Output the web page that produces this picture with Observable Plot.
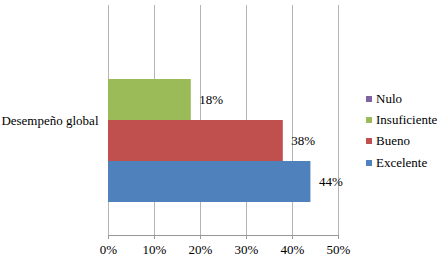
<!DOCTYPE html>
<html>
<head>
<meta charset="utf-8">
<script src="https://cdn.jsdelivr.net/npm/d3@7"></script>
<script src="https://cdn.jsdelivr.net/npm/@observablehq/plot@0.6"></script>
<style>
  body { margin: 0; background: #fff; }
  #wrap { position: relative; width: 447px; height: 263px; font-family: "Liberation Serif", "DejaVu Serif", serif; }
  #wrap svg, #wrap svg text { font-family: "Liberation Serif", "DejaVu Serif", serif !important; }
  #legend { position: absolute; left: 366px; top: 88px; font-size: 13px; color: #000; }
  #legend .row { height: 21.3px; display: flex; align-items: center; }
  #legend .sw { width: 6px; height: 6px; margin-right: 4px; }
</style>
</head>
<body>
<div id="wrap"></div>
<script>
const categories = ["Desempeño global"];
const series = ["Nulo", "Insuficiente", "Bueno", "Excelente"];
const values = [0, 0.18, 0.38, 0.44];
const colors = ["#8064A2", "#9BBB59", "#C0504D", "#4F81BD"];
const xTicks = [0, 0.1, 0.2, 0.3, 0.4, 0.5];

const data = series.map((s, i) => ({category: categories[0], series: s, value: values[i]}));
const fmt = d3.format(".0%");

const chart = Plot.plot({
  width: 447,
  height: 263,
  marginLeft: 108,
  marginRight: 109,
  marginTop: 5,
  marginBottom: 28,
  style: {fontFamily: "Liberation Serif, DejaVu Serif, serif", fontSize: "13px", background: "#fff", color: "#000"},
  x: {domain: [0, 0.5]},
  y: {domain: series, paddingInner: 0, paddingOuter: 0.788, axis: null},
  fy: {domain: categories, padding: 0},
  color: {domain: series, range: colors},
  marks: [
    Plot.ruleX(xTicks, {stroke: "#b4b4b4", strokeOpacity: 1}),
    Plot.barX(data, {fy: "category", y: "series", x: "value", fill: "series"}),
    Plot.text(data.filter(d => d.value > 0), {fy: "category", y: "series", x: "value", text: d => fmt(d.value), textAnchor: "start", dx: 8, fill: "#000"}),
    Plot.frame({anchor: "bottom", stroke: "#999"}),
    Plot.axisX({ticks: xTicks, tickFormat: fmt, tickSize: 4, tickPadding: 5, stroke: "#999", fill: "#000", label: null}),
    Plot.axisFy({anchor: "left", tickSize: 0, tickPadding: 10, label: null, fill: "#000"})
  ]
});
document.getElementById("wrap").appendChild(chart);

const legend = document.createElement("div");
legend.id = "legend";
series.forEach((s, i) => {
  const row = document.createElement("div");
  row.className = "row";
  const sw = document.createElement("span");
  sw.className = "sw";
  sw.style.background = colors[i];
  const t = document.createElement("span");
  t.textContent = s;
  row.appendChild(sw);
  row.appendChild(t);
  legend.appendChild(row);
});
document.getElementById("wrap").appendChild(legend);
</script>
</body>
</html>
